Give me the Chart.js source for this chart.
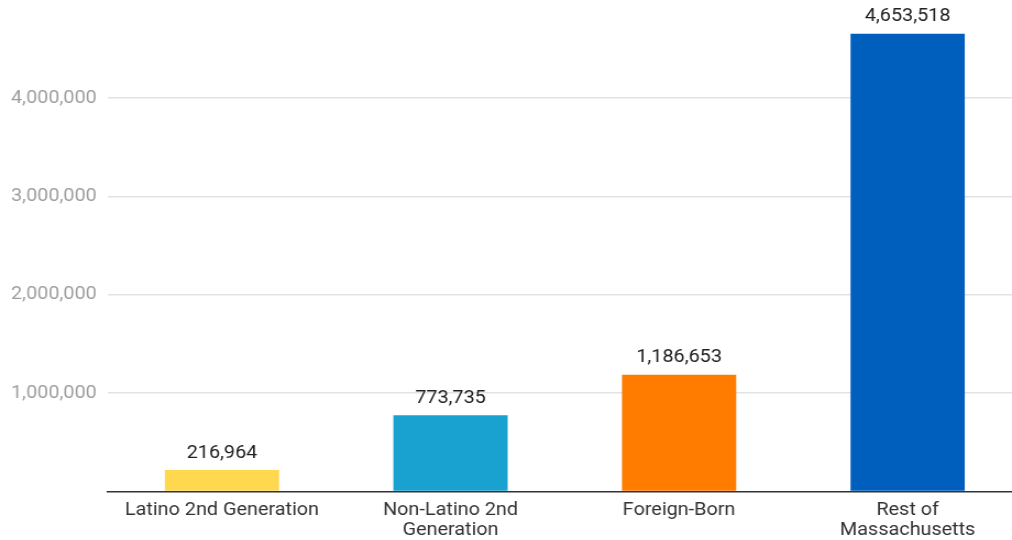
<!DOCTYPE html>
<html>
<head>
<meta charset="utf-8">
<script src="https://cdn.jsdelivr.net/npm/chart.js@4"></script>
<style>
  html, body { margin: 0; padding: 0; background: #fff; overflow: hidden; width: 1012px; height: 540px; position: relative; }
  #wrap {
    position: absolute; left: 0; top: -21px;
    width: 929px; height: 570px;
    transform: scaleX(1.1); transform-origin: 0 0;
  }
</style>
</head>
<body>
<div id="wrap"><canvas id="chart"></canvas></div>
<script>
// Population groups and counts
const categories = [
  ['Latino 2nd Generation'],
  ['Non-Latino 2nd', 'Generation'],
  ['Foreign-Born'],
  ['Rest of', 'Massachusetts']
];
const populations = [216964, 773735, 1186653, 4653518];
const barColors = ['#ffd84f', '#19a1cf', '#ff7c00', '#005fbd'];
const yTickValues = [1000000, 2000000, 3000000, 4000000];

const fmt = v => v.toLocaleString('en-US');

// Writes each bar's value just above its top
const valueLabels = {
  id: 'valueLabels',
  afterDatasetsDraw(chart) {
    const ctx = chart.ctx;
    const meta = chart.getDatasetMeta(0);
    ctx.save();
    ctx.font = '18px Roboto';
    ctx.fillStyle = '#212121';
    ctx.textAlign = 'center';
    ctx.textBaseline = 'bottom';
    meta.data.forEach((bar, i) => {
      ctx.fillText(fmt(populations[i]), bar.x, bar.y - 8);
    });
    ctx.restore();
  }
};

new Chart(document.getElementById('chart'), {
  type: 'bar',
  data: {
    labels: categories,
    datasets: [{
      data: populations,
      backgroundColor: barColors,
      barPercentage: 0.5,
      categoryPercentage: 1.0
    }]
  },
  plugins: [valueLabels],
  options: {
    responsive: true,
    maintainAspectRatio: false,
    animation: false,
    layout: { padding: 0 },
    plugins: { legend: { display: false }, tooltip: { enabled: false } },
    scales: {
      x: {
        grid: { display: false, drawTicks: false },
        border: { display: true, color: '#333333', width: 1.5 },
        ticks: {
          color: '#333333',
          font: { family: 'Roboto', size: 18, lineHeight: 1.1 },
          padding: 9,
          maxRotation: 0,
          autoSkip: false
        }
      },
      y: {
        min: 0,
        max: 5000000,
        afterBuildTicks(scale) {
          scale.ticks = [0, ...yTickValues, 5000000].map(v => ({ value: v }));
        },
        grid: {
          drawTicks: false,
          color: ctx => (ctx.tick && yTickValues.includes(ctx.tick.value)) ? '#e3e3e3' : 'rgba(0,0,0,0)',
          lineWidth: 1.5
        },
        border: { display: false },
        ticks: {
          color: '#9e9e9e',
          font: { family: 'Roboto', size: 18 },
          padding: 10,
          callback: v => yTickValues.includes(v) ? fmt(v) : ''
        }
      }
    }
  }
});
</script>
</body>
</html>
